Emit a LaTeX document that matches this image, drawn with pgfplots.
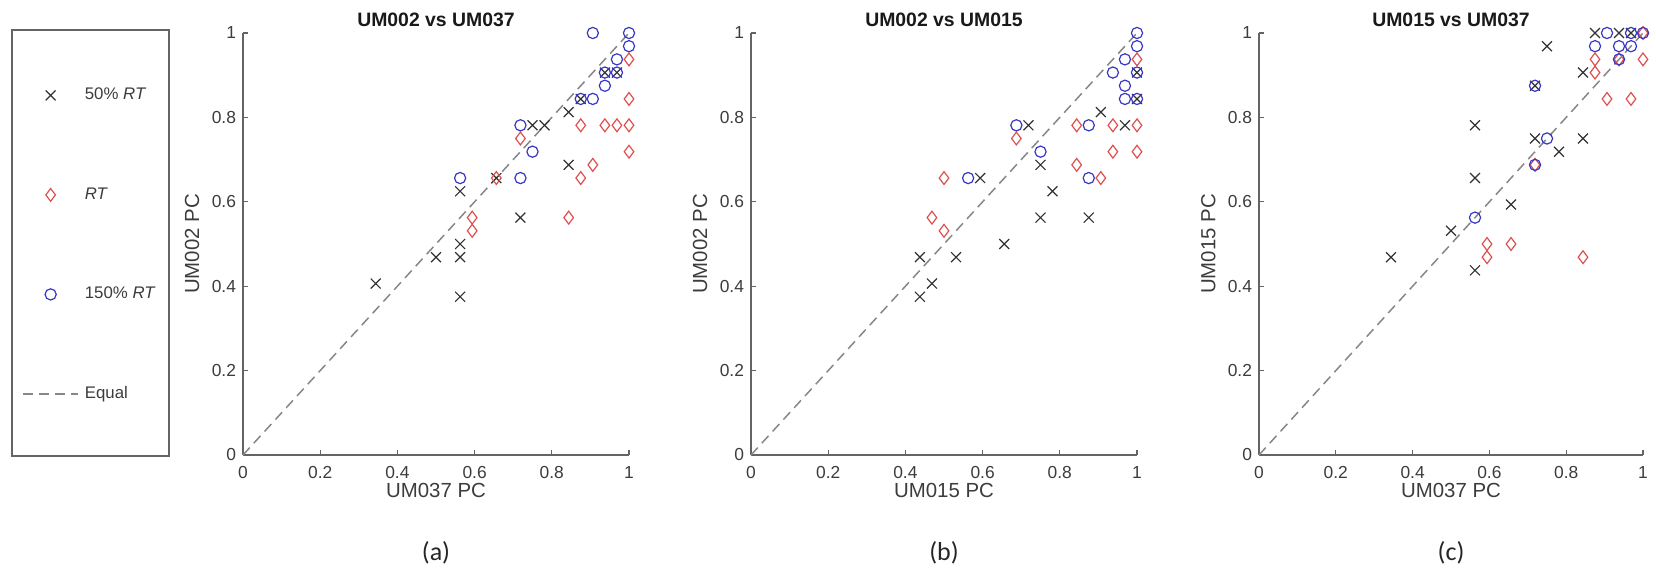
\documentclass[border=0pt]{standalone}
\usepackage{fontspec}
\setmainfont{Liberation Sans}
\newfontfamily\calib{Carlito}
\usepackage{pgfplots}
\pgfplotsset{compat=1.18}
\definecolor{axgray}{RGB}{100,100,100}
\definecolor{txtgray}{RGB}{60,60,60}
\definecolor{mk}{RGB}{50,50,50}
\definecolor{mr}{RGB}{222,80,80}
\definecolor{mb}{RGB}{55,55,195}
\definecolor{eqg}{RGB}{135,135,135}
\tikzset{plab/.style={font=\calib\fontsize{13bp}{15bp}\selectfont, text=black!85}}
\pgfplotsset{
  panel/.style={
    scale only axis, width=193bp, height=211bp,
    xmin=0,xmax=1,ymin=0,ymax=1,
    axis lines=left, axis line style={-, draw=axgray, line width=0.75bp},
    xtick={0,0.2,0.4,0.6,0.8,1}, ytick={0,0.2,0.4,0.6,0.8,1},
    tick align=inside, major tick length=2.5bp,
    tick style={draw=axgray, line width=0.6bp},
    /pgf/number format/assume math mode=true,
    ticklabel style={font=\fontsize{8.7bp}{10bp}\selectfont, text=txtgray},
    xticklabel style={yshift=-2bp},
    label style={font=\fontsize{10.2bp}{12bp}\selectfont, text=txtgray},
    xlabel style={at={(axis description cs:0.5,-0.083)}, anchor=center},
    ylabel style={at={(axis description cs:-0.132,0.5)}, anchor=center},
    every axis title shift=0pt,
    title style={at={(axis description cs:0.5,1.031)}, anchor=center, font=\bfseries\fontsize{9.7bp}{11bp}\selectfont, text=black!90},
    clip=false,
  },
  crossp/.style={only marks, mark=x, mark size=3.5bp, mk, mark options={line width=0.6bp}},
  diap/.style={only marks, mark=diamond, mark size=3.2bp, mr, mark options={line width=0.6bp}},
  circp/.style={only marks, mark=o, mark size=2.8bp, mb, mark options={line width=0.6bp}},
  eqp/.style={eqg, dash pattern=on 5bp off 3bp, line width=0.75bp},
}
\begin{document}
\begin{tikzpicture}
\useasboundingbox (0,0) rectangle (828bp,291bp);
\draw[draw=axgray, line width=0.8bp] (6bp,276bp) rectangle (84.5bp,63bp);

% ---------- (a) ----------
\begin{axis}[panel, at={(121.5bp,63.5bp)}, anchor=south west,
  title={UM002 vs UM037}, xlabel={UM037 PC}, ylabel={UM002 PC},
  legend style={at={(-0.57254,0.97097)}, anchor=north west, draw=none, fill=none,
    inner sep=0pt, font=\fontsize{8.4bp}{10bp}\selectfont, text=txtgray,
    nodes={minimum height=49.75bp, inner xsep=3bp, inner ysep=0pt}},
  legend cell align=left,
  legend image code/.code={\draw[mark repeat=2,mark phase=2,#1] plot coordinates {(0bp,0bp) (13.75bp,0bp) (27.5bp,0bp)};},
]
\addplot[crossp] coordinates {(0.34375,0.40625) (0.5,0.46875) (0.5625,0.46875) (0.5625,0.5) (0.5625,0.375) (0.5625,0.625) (0.65625,0.65625) (0.71875,0.5625) (0.75,0.78125) (0.78125,0.78125) (0.84375,0.8125) (0.84375,0.6875) (0.875,0.84375) (0.9375,0.90625) (0.96875,0.90625)};
\addlegendentry{50\% \textit{RT}}
\addplot[diap] coordinates {(0.59375,0.5625) (0.59375,0.53125) (0.65625,0.65625) (0.71875,0.75) (0.84375,0.5625) (0.875,0.65625) (0.875,0.78125) (0.90625,0.6875) (0.9375,0.78125) (0.96875,0.78125) (1,0.78125) (1,0.71875) (1,0.84375) (1,0.9375)};
\addlegendentry{\textit{RT}}
\addplot[circp] coordinates {(0.5625,0.65625) (0.71875,0.65625) (0.71875,0.78125) (0.75,0.71875) (0.875,0.84375) (0.90625,0.84375) (0.9375,0.875) (0.9375,0.90625) (0.96875,0.90625) (0.96875,0.9375) (0.90625,1) (1,1) (1,0.96875)};
\addlegendentry{150\% \textit{RT}}
\addplot[eqp] coordinates {(0,0) (1,1)};
\addlegendentry{Equal}
\node[plab] at (axis description cs:0.5,-0.232) {(a)};
\end{axis}

% ---------- (b) ----------
\begin{axis}[panel, at={(375.5bp,63.5bp)}, anchor=south west,
  title={UM002 vs UM015}, xlabel={UM015 PC}, ylabel={UM002 PC}]
\addplot[crossp] coordinates {(0.4375,0.375) (0.46875,0.40625) (0.4375,0.46875) (0.53125,0.46875) (0.65625,0.5) (0.75,0.5625) (0.875,0.5625) (0.78125,0.625) (0.59375,0.65625) (0.75,0.6875) (0.71875,0.78125) (0.90625,0.8125) (0.96875,0.78125) (1,0.84375) (1,0.90625)};
\addplot[diap] coordinates {(0.46875,0.5625) (0.5,0.53125) (0.5,0.65625) (0.6875,0.75) (0.84375,0.78125) (0.84375,0.6875) (0.90625,0.65625) (0.9375,0.78125) (0.9375,0.71875) (1,0.78125) (1,0.71875) (1,0.9375)};
\addplot[circp] coordinates {(0.5625,0.65625) (0.6875,0.78125) (0.75,0.71875) (0.875,0.78125) (0.875,0.65625) (0.9375,0.90625) (0.96875,0.9375) (0.96875,0.875) (0.96875,0.84375) (1,1) (1,0.96875) (1,0.90625) (1,0.84375)};
\addplot[eqp] coordinates {(0,0) (1,1)};
\node[plab] at (axis description cs:0.5,-0.232) {(b)};
\end{axis}

% ---------- (c) ----------
\begin{axis}[panel, at={(629.5bp,63.5bp)}, anchor=south west, width=192bp,
  title={UM015 vs UM037}, xlabel={UM037 PC}, ylabel={UM015 PC}]
\addplot[crossp] coordinates {(0.34375,0.46875) (0.5,0.53125) (0.5625,0.4375) (0.5625,0.65625) (0.5625,0.78125) (0.65625,0.59375) (0.71875,0.75) (0.71875,0.875) (0.75,0.96875) (0.78125,0.71875) (0.84375,0.75) (0.84375,0.90625) (0.875,1) (0.9375,1) (0.96875,1)};
\addplot[diap] coordinates {(0.59375,0.5) (0.59375,0.46875) (0.65625,0.5) (0.71875,0.6875) (0.84375,0.46875) (0.875,0.9375) (0.875,0.90625) (0.90625,0.84375) (0.96875,0.84375) (0.9375,0.9375) (1,0.9375) (1,1)};
\addplot[circp] coordinates {(0.5625,0.5625) (0.71875,0.6875) (0.71875,0.875) (0.75,0.75) (0.875,0.96875) (0.90625,1) (0.9375,0.96875) (0.96875,0.96875) (0.96875,1) (0.9375,0.9375) (1,1)};
\addplot[eqp] coordinates {(0,0) (1,1)};
\node[plab] at (axis description cs:0.5,-0.232) {(c)};
\end{axis}
\end{tikzpicture}
\end{document}
